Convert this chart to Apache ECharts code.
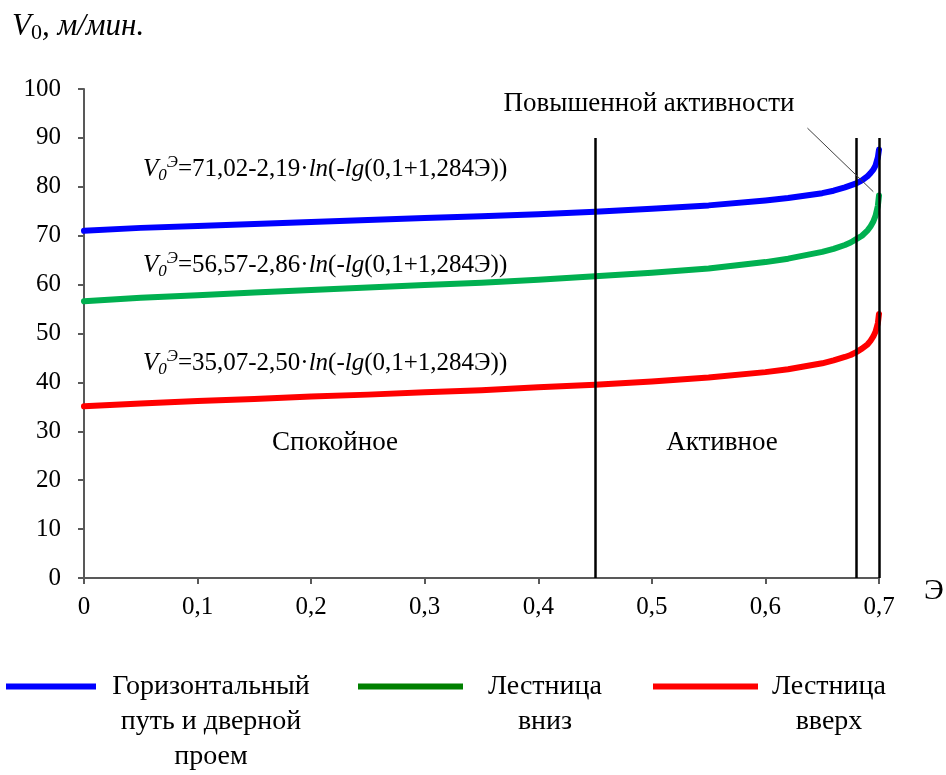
<!DOCTYPE html>
<html lang="ru">
<head>
  <meta charset="UTF-8">
  <title>V0</title>
  <script src="https://cdn.jsdelivr.net/npm/echarts@6/dist/echarts.min.js"></script>
  <style>
    html, body { margin: 0; padding: 0; background: #fff; }
    #main { width: 946px; height: 775px; }
  </style>
</head>
<body>
  <div id="main"></div>
  <script>
    // данные
    var xE = [0, 0.05, 0.1, 0.15, 0.2, 0.25, 0.3, 0.35, 0.4, 0.45, 0.5, 0.55, 0.6, 0.62, 0.65, 0.66, 0.67, 0.675, 0.68, 0.685, 0.69, 0.6925, 0.695, 0.697, 0.699, 0.7];
    var vHoriz = [71.0, 71.6, 72.0, 72.4, 72.8, 73.2, 73.6, 74.0, 74.4, 74.9, 75.5, 76.2, 77.2, 77.7, 78.7, 79.2, 79.9, 80.3, 80.7, 81.3, 82.2, 82.8, 83.5, 84.4, 86.0, 87.6];
    var vDown = [56.6, 57.3, 57.8, 58.4, 58.9, 59.4, 59.9, 60.4, 61.0, 61.7, 62.4, 63.3, 64.6, 65.3, 66.7, 67.3, 68.1, 68.6, 69.3, 70.0, 71.1, 71.9, 72.9, 74.1, 76.1, 78.2];
    var vUp = [35.1, 35.7, 36.2, 36.6, 37.1, 37.5, 38.0, 38.4, 39.0, 39.5, 40.2, 41.0, 42.1, 42.7, 43.9, 44.5, 45.2, 45.6, 46.2, 46.9, 47.8, 48.5, 49.4, 50.4, 52.1, 54.0];
    var seriesNames = ['Горизонтальный путь и дверной проем', 'Лестница вниз', 'Лестница вверх'];
    var legendLines = [['Горизонтальный', 'путь и дверной', 'проем'], ['Лестница', 'вниз'], ['Лестница', 'вверх']];
    var zoneBounds = [0.45, 0.68, 0.7];
    var zoneTop = 90;
    var zoneNames = ['Спокойное', 'Активное', 'Повышенной активности'];
    var equations = [['71,02', '2,19'], ['56,57', '2,86'], ['35,07', '2,50']];

    var FONT = 'Liberation Serif';
    var chart = echarts.init(document.getElementById('main'));

    function pairs(ys) {
      return xE.map(function (x, i) { return [x, ys[i]]; });
    }

    function eqText(k) {
      return '{i|V}{sub|0}{sup|Э}{n|=' + equations[k][0] + '-' + equations[k][1] + '·}{i|ln}{n|(-}{i|lg}{n|(0,1+1,284Э))}';
    }
    var eqRich = {
      n: { fontFamily: FONT, fontSize: 25, lineHeight: 30, color: '#000' },
      i: { fontFamily: FONT, fontSize: 25, lineHeight: 30, fontStyle: 'italic', color: '#000' },
      sub: { fontFamily: FONT, fontSize: 17, lineHeight: 18, fontStyle: 'italic', verticalAlign: 'bottom', color: '#000' },
      sup: { fontFamily: FONT, fontSize: 17, lineHeight: 18, fontStyle: 'italic', verticalAlign: 'top', color: '#000' }
    };

    // легенда: пустые строки сверху, чтобы значок стоял у первой строки
    function legendFmt(k) {
      var lines = legendLines[k];
      var pad = [];
      for (var j = 1; j < lines.length; j++) pad.push('{c| }');
      return pad.concat(lines.map(function (s) { return '{c|' + s + '}'; })).join('\n');
    }
    function makeLegend(k, left, itemW, textW, color) {
      var nLines = legendLines[k].length * 2 - 1;
      return {
        left: left,
        top: 690 - nLines * 35 / 2,
        padding: 0,
        selectedMode: false,
        icon: 'rect',
        itemWidth: itemW,
        itemHeight: 6,
        data: [{
          name: seriesNames[k],
          itemStyle: { color: color },
          lineStyle: { color: color, width: 0, cap: 'butt' }
        }],
        formatter: function () { return legendFmt(k); },
        textStyle: {
          rich: {
            c: { width: textW, align: 'center', fontFamily: FONT, fontSize: 28, lineHeight: 35, color: '#000' }
          }
        }
      };
    }

    var zoneLines = zoneBounds.map(function (x) {
      return [{ coord: [x, 0] }, { coord: [x, zoneTop] }];
    });
    zoneLines.push([
      { coord: [0.637, 92], lineStyle: { color: '#404040', width: 1 } },
      { coord: [0.695, 79], lineStyle: { color: '#404040', width: 1 } }
    ]);

    function lineSeries(k, ys, color, extra) {
      var s = {
        name: seriesNames[k],
        type: 'line',
        data: pairs(ys),
        showSymbol: false,
        smooth: false,
        z: 3,
        itemStyle: { color: color },
        lineStyle: { color: color, width: 6, cap: 'round', join: 'round' }
      };
      return Object.assign(s, extra || {});
    }

    var option = {
      animation: false,
      backgroundColor: '#fff',
      grid: { left: 84, right: 67, top: 89, bottom: 197 },
      legend: [
        makeLegend(0, 6, 90, 220, '#0000ff'),
        makeLegend(1, 358, 105, 154, '#008000'),
        makeLegend(2, 653, 105, 132, '#ff0000')
      ],
      xAxis: {
        type: 'value',
        min: 0,
        max: 0.7,
        interval: 0.1,
        axisLine: { lineStyle: { color: '#595959', width: 2 } },
        axisTick: { show: true, length: 6, lineStyle: { color: '#595959', width: 2 } },
        splitLine: { show: false },
        axisLabel: {
          margin: 17,
          fontFamily: FONT,
          fontSize: 25,
          color: '#000',
          formatter: function (v) { return String(+v.toFixed(1)).replace('.', ','); }
        }
      },
      yAxis: {
        type: 'value',
        min: 0,
        max: 100,
        interval: 10,
        axisLine: { show: true, lineStyle: { color: '#595959', width: 2 } },
        axisTick: { show: true, length: 6, lineStyle: { color: '#595959', width: 2 } },
        splitLine: { show: false },
        axisLabel: { margin: 23, fontFamily: FONT, fontSize: 25, color: '#000' }
      },
      series: [
        lineSeries(0, vHoriz, '#0000ff', {
          markLine: {
            silent: true,
            symbol: ['none', 'none'],
            label: { show: false },
            z: 4,
            lineStyle: { color: '#000', width: 2.5, type: 'solid' },
            data: zoneLines
          }
        }),
        lineSeries(1, vDown, '#00b050'),
        lineSeries(2, vUp, '#ff0000')
      ],
      graphic: [
        {
          type: 'text', left: 12, top: 11,
          style: {
            text: '{i|V}{s|0}{i|, м/мин.}',
            rich: {
              i: { fontFamily: FONT, fontSize: 31, lineHeight: 35, fontStyle: 'italic', color: '#000' },
              s: { fontFamily: FONT, fontSize: 22, lineHeight: 24, verticalAlign: 'bottom', color: '#000' }
            }
          }
        },
        { type: 'text', left: 143, top: 154, style: { text: eqText(0), rich: eqRich } },
        { type: 'text', left: 143, top: 250, style: { text: eqText(1), rich: eqRich } },
        { type: 'text', left: 143, top: 348, style: { text: eqText(2), rich: eqRich } },
        { type: 'text', x: 335, y: 443, style: { text: zoneNames[0], font: '27px "Liberation Serif"', fill: '#000', align: 'center', verticalAlign: 'middle' } },
        { type: 'text', x: 722, y: 443, style: { text: zoneNames[1], font: '27px "Liberation Serif"', fill: '#000', align: 'center', verticalAlign: 'middle' } },
        { type: 'text', x: 649, y: 104, style: { text: zoneNames[2], font: '27px "Liberation Serif"', fill: '#000', align: 'center', verticalAlign: 'middle' } },
        { type: 'text', x: 934, y: 591, style: { text: 'Э', font: '30px "Liberation Serif"', fill: '#000', align: 'center', verticalAlign: 'middle' } }
      ]
    };
    chart.setOption(option);
  </script>
</body>
</html>
